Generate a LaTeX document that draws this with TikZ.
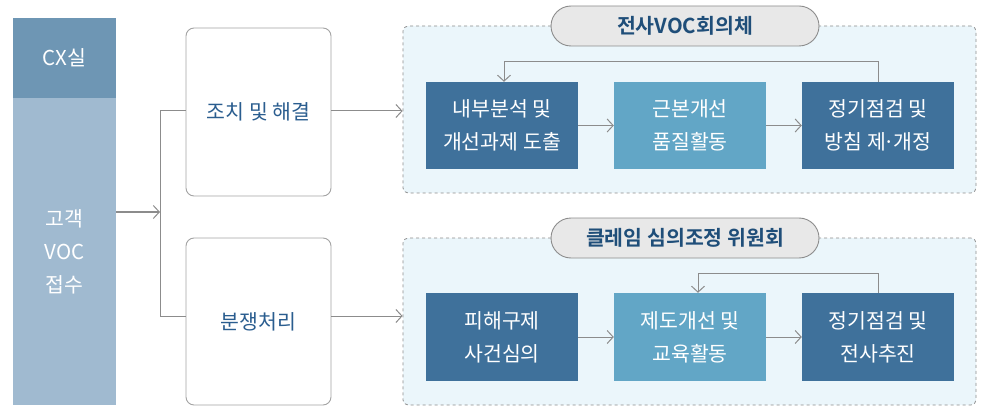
\documentclass[tikz,border=0pt]{standalone}
\usepackage{fontspec}
\setmainfont{Noto Sans CJK KR}[BoldFont={Noto Sans CJK KR Bold}]
\usetikzlibrary{arrows.meta}
\definecolor{colTop}{HTML}{6E96B4}
\definecolor{colLow}{HTML}{A0BAD0}
\definecolor{darkBox}{HTML}{3F719B}
\definecolor{midBox}{HTML}{62A6C6}
\definecolor{contFill}{HTML}{EBF6FB}
\definecolor{pillFill}{HTML}{E8E8E8}
\definecolor{pillText}{HTML}{1F4E79}
\definecolor{boxText}{HTML}{2A5D8F}
\definecolor{lineGray}{HTML}{8C8C8C}
\tikzset{
  colbox/.style={inner sep=0pt, text=white, align=center, font=\fontsize{20.5}{33}\selectfont, minimum width=103pt},
  procbox/.style={draw=lineGray!80, fill=white, rounded corners=8pt, minimum width=145pt, text=boxText, font=\fontsize{20.5}{33}\selectfont, line width=0.9pt},
  container/.style={draw=lineGray, dashed, fill=contFill, rounded corners=5pt, minimum width=573pt, minimum height=167pt, line width=0.8pt},
  pill/.style={draw=lineGray, fill=pillFill, rounded corners=20pt, minimum width=268pt, minimum height=40pt, text=pillText, font=\fontsize{20.5}{22}\selectfont\bfseries, line width=0.9pt},
  stepbox/.style={inner sep=0pt, minimum width=152pt, text=white, align=center, font=\fontsize{20.5}{33}\selectfont},
  conn/.style={draw=lineGray, line width=1pt},
  arr/.style={conn, -{Straight Barb[length=6pt, width=13pt]}}
}
\begin{document}
\begin{tikzpicture}[x=1pt, y=-1pt]
\useasboundingbox (0,0) rectangle (982,406);
% left column
\node[colbox, fill=colTop, minimum height=80pt] (cx) at (64.5,58) {CX실};
\node[colbox, fill=colLow, minimum height=307pt] (voc) at (64.5,251.5) {고객\\VOC\\접수};
% process boxes
\node[procbox, minimum height=168pt] (A) at (258.5,112) {조치 및 해결};
\node[procbox, minimum height=167pt] (B) at (258.5,321.5) {분쟁처리};
% containers
\node[container] (C1) at (689.5,109.5) {};
\node[container] (C2) at (689.5,321.5) {};
\node[pill] (P1) at (685,26) {전사VOC회의체};
\node[pill] (P2) at (685,238) {클레임 심의조정 위원회};
% inner boxes row 1
\node[stepbox, fill=darkBox, minimum height=87pt] (r1a) at (502,125.5) {내부분석 및\\개선과제 도출};
\node[stepbox, fill=midBox, minimum height=87pt] (r1b) at (690,125.5) {근본개선\\품질활동};
\node[stepbox, fill=darkBox, minimum height=87pt] (r1c) at (878,125.5) {정기점검 및\\방침 제\kern-0.1em·\kern-0.1em개정};
% inner boxes row 2
\node[stepbox, fill=darkBox, minimum height=88pt] (r2a) at (502,337) {피해구제\\사건심의};
\node[stepbox, fill=midBox, minimum height=88pt] (r2b) at (690,337) {제도개선 및\\교육활동};
\node[stepbox, fill=darkBox, minimum height=88pt] (r2c) at (878,337) {정기점검 및\\전사추진};
% connectors left
\coordinate (j) at (160,212);
\coordinate (ja) at (160,111);
\coordinate (jb) at (160,316);
\draw[arr] (voc.east |- j) -- (j);
\draw[conn] (A.west |- ja) -- (ja) -- (jb) -- (B.west |- jb);
\draw[arr] (A.east |- ja) -- (C1.west |- ja);
\draw[arr] (B.east |- jb) -- (C2.west |- jb);
% row arrows
\draw[arr] (r1a.east) -- (r1b.west);
\draw[arr] (r1b.east) -- (r1c.west);
\draw[arr] (r2a.east) -- (r2b.west);
\draw[arr] (r2b.east) -- (r2c.west);
% feedback
\coordinate (fb1) at (504,62);
\coordinate (fb2) at (698,273);
\draw[arr] (r1c.north) |- (fb1) -- (fb1 |- r1a.north);
\draw[arr] (r2c.north) |- (fb2) -- (fb2 |- r2b.north);
\end{tikzpicture}
\end{document}
